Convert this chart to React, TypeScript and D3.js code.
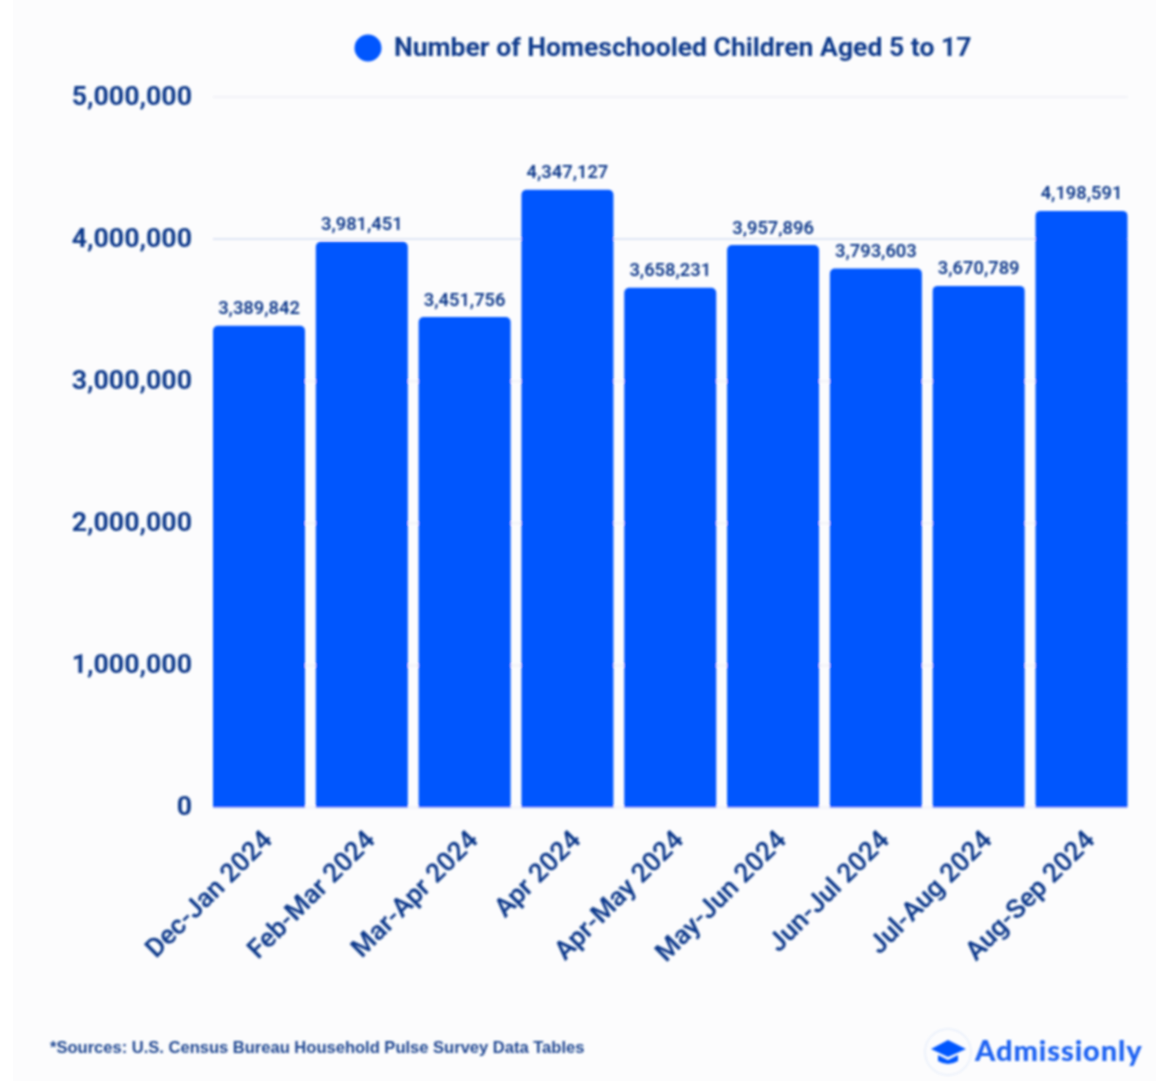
import React from "react";
import * as d3 from "d3";

const categories = ["Dec-Jan 2024","Feb-Mar 2024","Mar-Apr 2024","Apr 2024","Apr-May 2024","May-Jun 2024","Jun-Jul 2024","Jul-Aug 2024","Aug-Sep 2024"];
const values = [3389842,3981451,3451756,4347127,3658231,3957896,3793603,3670789,4198591];
const yTicks = [0,1000000,2000000,3000000,4000000,5000000];
const legendLabel = "Number of Homeschooled Children Aged 5 to 17";
const sourceNote = "*Sources: U.S. Census Bureau Household Pulse Survey Data Tables";
const brand = "Admissionly";

const W = 1156, H = 1081;
const BLUE = "#0457fe", NAVY = "#0f3a8c";
const x = d3.scaleBand<string>().domain(categories).range([213, 1127.5]).paddingInner(0.105).paddingOuter(0);
const y = d3.scaleLinear().domain([0, 5000000]).range([807.5, 97]);
const fmt = d3.format(",");

function barPath(x0: number, y0: number, w: number, yb: number, r: number) {
  const p = d3.path();
  p.moveTo(x0, yb);
  p.lineTo(x0, y0 + r);
  p.arcTo(x0, y0, x0 + r, y0, r);
  p.lineTo(x0 + w - r, y0);
  p.arcTo(x0 + w, y0, x0 + w, y0 + r, r);
  p.lineTo(x0 + w, yb);
  p.closePath();
  return p.toString();
}

export default function App() {
  return (
    <svg width={W} height={H} viewBox={`0 0 ${W} ${H}`} style={{ position: "absolute", left: 0, top: 0, display: "block" }} fontFamily="Roboto">
      <defs>
        <filter id="soft" x="-5%" y="-5%" width="110%" height="110%"><feGaussianBlur stdDeviation="0.8" /></filter>
      </defs>
      <rect width={W} height={H} fill="#fff" />
      <rect x={13} y={0} width={W - 13} height={H} fill="#fcfcfd" />
      <g filter="url(#soft)">
        {yTicks.map((t) => (
          <g key={t}>
            <line x1={213} x2={1127.5} y1={y(t)} y2={y(t)} stroke={t === 4000000 ? "#dfe5f5" : "#f1f2f8"} strokeWidth={2} />
            <text x={192} y={y(t) - 2} dy="0.36em" textAnchor="end" fontSize={26.7} fontWeight={700} fill={NAVY}>{fmt(t)}</text>
          </g>
        ))}
        {categories.map((c, i) => {
          const bx = x(c)!, bw = x.bandwidth(), by = y(values[i]);
          const cx = bx + bw / 2;
          return (
            <g key={c}>
              <path d={barPath(bx, by, bw, y(0), 5)} fill={BLUE} />
              <text x={cx} y={by - 11.5} textAnchor="middle" fontSize={18.3} fontWeight={600} fill={NAVY}>{fmt(values[i])}</text>
              <text transform={`translate(${cx + 8},${y(0) + 27}) rotate(-45)`} textAnchor="end" fontSize={26.6} fontWeight={600} fill={NAVY} dy="0.36em">{c}</text>
            </g>
          );
        })}
        <circle cx={368} cy={48} r={13.5} fill={BLUE} />
        <text x={394} y={46.5} dy="0.36em" fontSize={26.55} fontWeight={700} fill={NAVY}>{legendLabel}</text>
        <text x={50} y={1053} fontFamily="Liberation Sans" fontSize={16.55} fontWeight={700} fill="#1c4490">{sourceNote}</text>
        <circle cx={948} cy={1052} r={23} fill="none" stroke="#e8effb" strokeWidth={1.5} />
        <path d="M931 1049 L948 1040 L966 1049 L948 1057 Z M938 1055 L948 1060 L958 1055 L958 1061 Q948 1067 938 1061 Z" fill={BLUE} />
        <text x={975} y={1061} fontFamily="Lato" fontSize={29} fontWeight={900} letterSpacing={0.9} fill="#1d62f2">{brand}</text>
      </g>
    </svg>
  );
}
